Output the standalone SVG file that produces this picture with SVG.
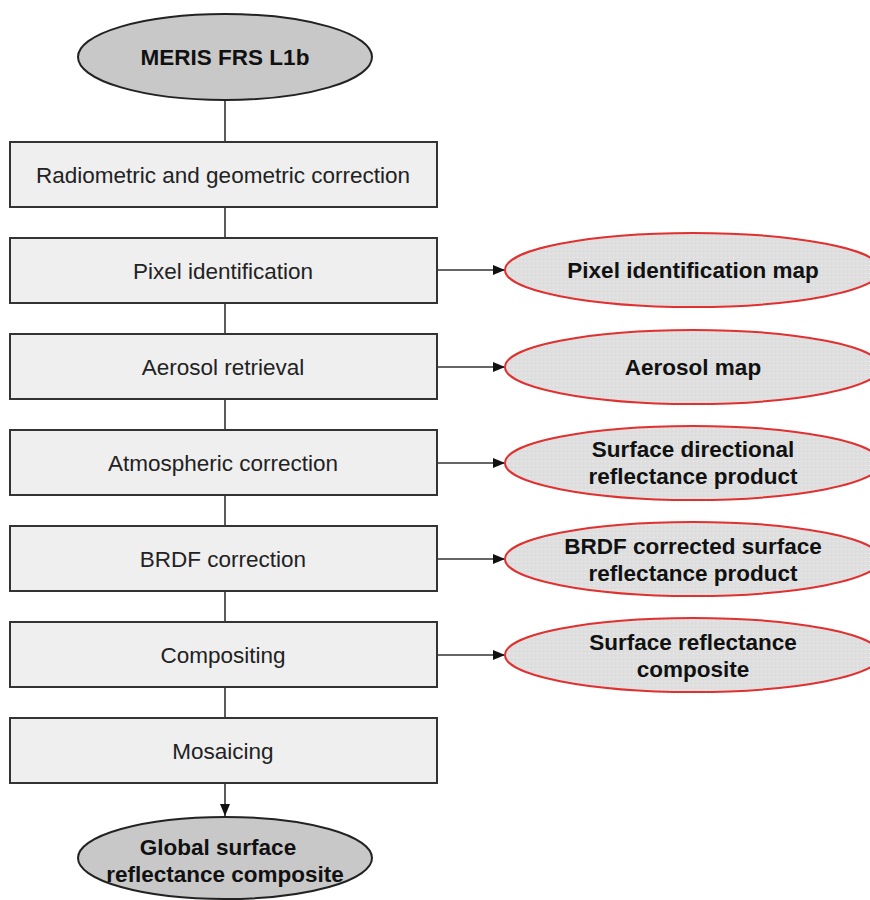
<svg xmlns="http://www.w3.org/2000/svg" width="870" height="900" viewBox="0 0 870 900">
<defs>
<marker id="ah" markerWidth="12" markerHeight="10" refX="12" refY="5" orient="auto" markerUnits="userSpaceOnUse">
<path d="M0,0 L12,5 L0,10 Z" fill="#111"/>
</marker>
<pattern id="dots" width="4" height="4" patternUnits="userSpaceOnUse">
<rect width="4" height="4" fill="#dedede"/>
<rect x="1" y="1" width="1" height="1" fill="#f2f2f2"/>
</pattern>
<style>
.box{fill:#efefef;stroke:#333;stroke-width:2}
.btxt{font-family:"Liberation Sans",Arial,sans-serif;font-size:22.5px;fill:#222;text-anchor:middle}
.term{fill:#c8c8c8;stroke:#222;stroke-width:2}
.out{fill:url(#dots);stroke:#e03030;stroke-width:2}
.etxt{font-family:"Liberation Sans",Arial,sans-serif;font-size:22.5px;font-weight:bold;fill:#111;text-anchor:middle}
.ln{stroke:#333;stroke-width:1.6;fill:none}
</style>
</defs>
<rect width="870" height="900" fill="#fff"/>
<g id="connectors">
<line class="ln" x1="225" y1="100" x2="225" y2="142"/>
<line class="ln" x1="225" y1="207" x2="225" y2="238"/>
<line class="ln" x1="225" y1="303" x2="225" y2="334"/>
<line class="ln" x1="225" y1="399" x2="225" y2="430"/>
<line class="ln" x1="225" y1="495" x2="225" y2="526"/>
<line class="ln" x1="225" y1="591" x2="225" y2="622"/>
<line class="ln" x1="225" y1="687" x2="225" y2="718"/>
<line class="ln" x1="225" y1="783" x2="225" y2="816" marker-end="url(#ah)"/>
<line class="ln" x1="437" y1="270" x2="505" y2="270" marker-end="url(#ah)"/>
<line class="ln" x1="437" y1="367" x2="505" y2="367" marker-end="url(#ah)"/>
<line class="ln" x1="437" y1="463" x2="505" y2="463" marker-end="url(#ah)"/>
<line class="ln" x1="437" y1="559" x2="505" y2="559" marker-end="url(#ah)"/>
<line class="ln" x1="437" y1="655" x2="505" y2="655" marker-end="url(#ah)"/>
</g>
<g id="start"><ellipse class="term" cx="225" cy="57" rx="147" ry="43"/><text class="etxt" x="225" y="65">MERIS FRS L1b</text></g>
<g id="radiometric"><rect class="box" x="10" y="142" width="427" height="65"/><text class="btxt" x="223" y="183">Radiometric and geometric correction</text></g>
<g id="pixel"><rect class="box" x="10" y="238" width="427" height="65"/><text class="btxt" x="223" y="279">Pixel identification</text></g>
<g id="aerosol"><rect class="box" x="10" y="334" width="427" height="65"/><text class="btxt" x="223" y="375">Aerosol retrieval</text></g>
<g id="atmos"><rect class="box" x="10" y="430" width="427" height="65"/><text class="btxt" x="223" y="471">Atmospheric correction</text></g>
<g id="brdf"><rect class="box" x="10" y="526" width="427" height="65"/><text class="btxt" x="223" y="567">BRDF correction</text></g>
<g id="compositing"><rect class="box" x="10" y="622" width="427" height="65"/><text class="btxt" x="223" y="663">Compositing</text></g>
<g id="mosaicing"><rect class="box" x="10" y="718" width="427" height="65"/><text class="btxt" x="223" y="759">Mosaicing</text></g>
<g id="end"><ellipse class="term" cx="225" cy="858" rx="147" ry="41"/><text class="etxt" x="218" y="855">Global surface</text><text class="etxt" x="225" y="882">reflectance composite</text></g>
<g id="out-pixel"><ellipse class="out" cx="693" cy="270" rx="188" ry="37"/><text class="etxt" x="693" y="278">Pixel identification map</text></g>
<g id="out-aerosol"><ellipse class="out" cx="693" cy="367" rx="188" ry="37"/><text class="etxt" x="693" y="375">Aerosol map</text></g>
<g id="out-sdr"><ellipse class="out" cx="693" cy="463" rx="188" ry="37"/><text class="etxt" x="693" y="457">Surface directional</text><text class="etxt" x="693" y="484">reflectance product</text></g>
<g id="out-brdf"><ellipse class="out" cx="693" cy="559" rx="188" ry="37"/><text class="etxt" x="693" y="554">BRDF corrected surface</text><text class="etxt" x="693" y="581">reflectance product</text></g>
<g id="out-comp"><ellipse class="out" cx="693" cy="655" rx="188" ry="37"/><text class="etxt" x="693" y="650">Surface reflectance</text><text class="etxt" x="693" y="677">composite</text></g>
</svg>
